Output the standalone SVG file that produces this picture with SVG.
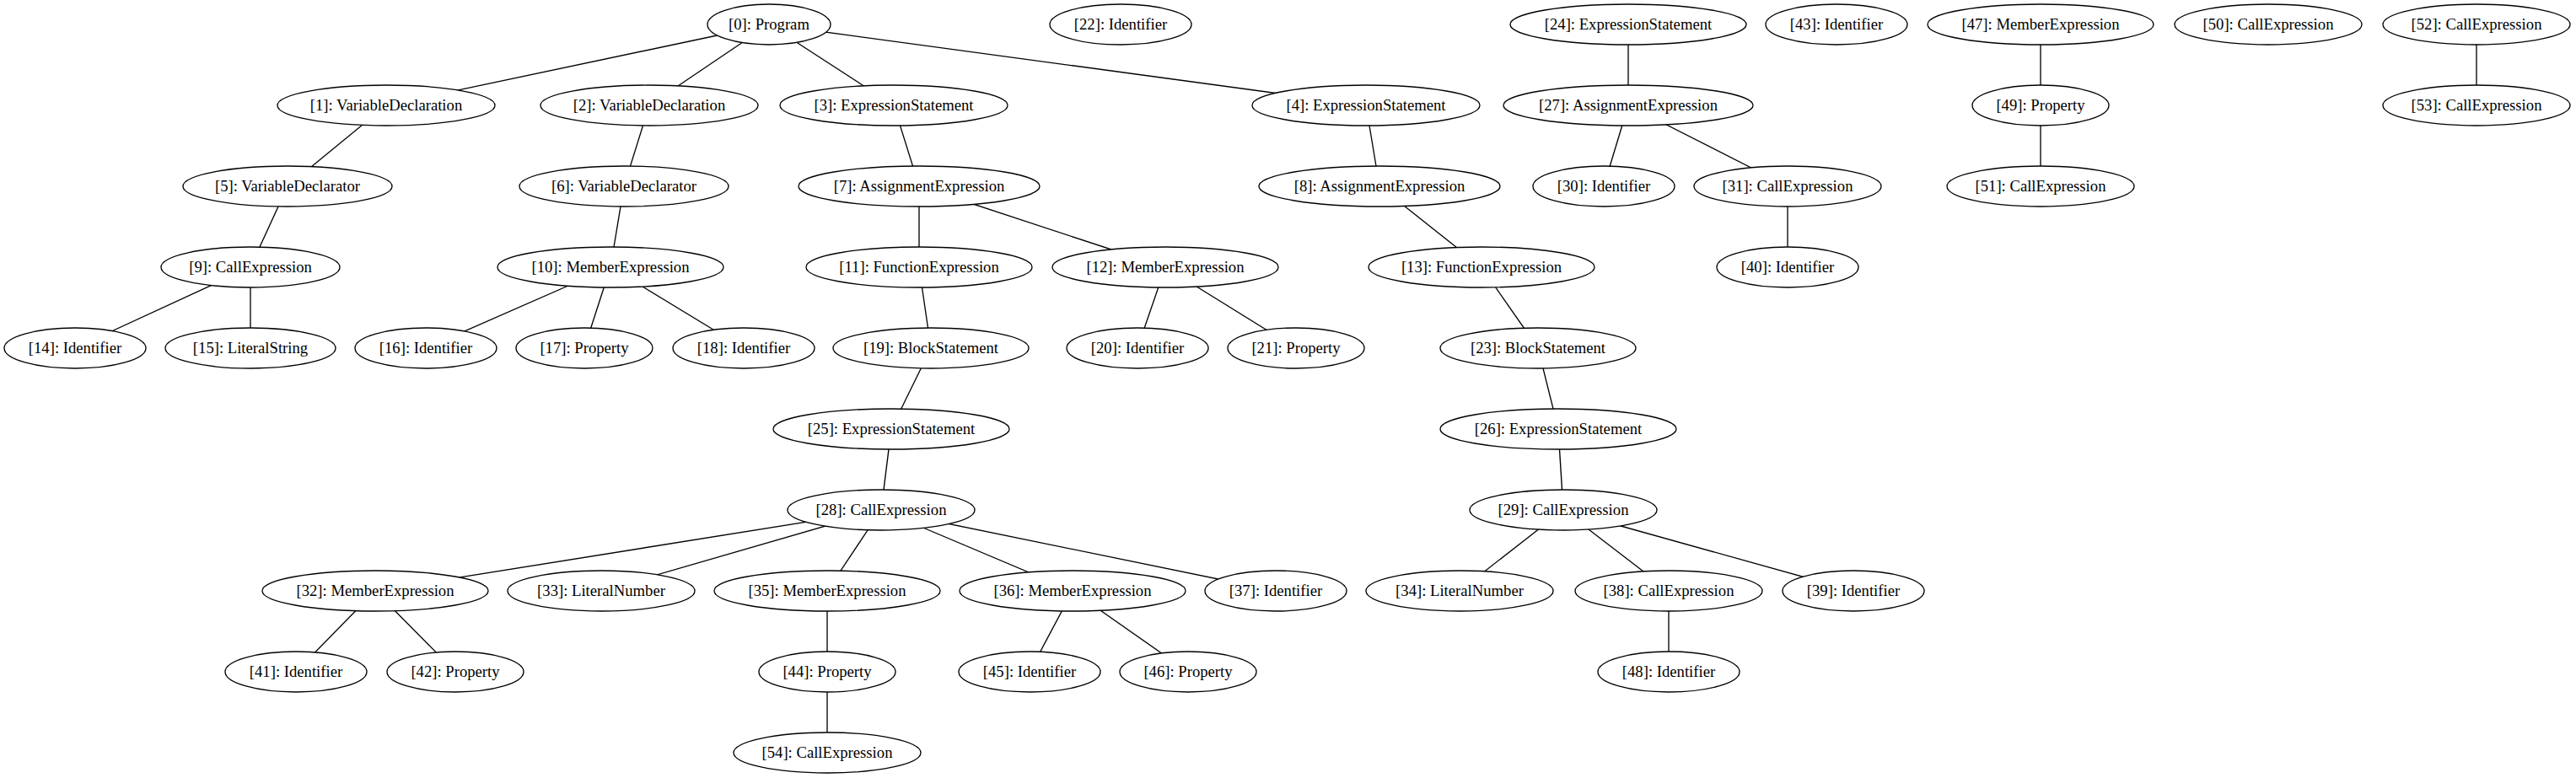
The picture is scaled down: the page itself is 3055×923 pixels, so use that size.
<svg xmlns="http://www.w3.org/2000/svg" width="3055" height="923" viewBox="0 0 3055 923">
<style>
.n ellipse{fill:#fff;stroke:#000;stroke-width:1.33}
.n text{font-family:"Liberation Serif","Times New Roman",serif;font-size:18.67px;text-anchor:middle;fill:#000}
#edges line{stroke:#000;stroke-width:1.33}
</style>
<rect width="3055" height="923" fill="#fff"/>
<g id="edges">
<line x1="912" y1="29" x2="458" y2="125"/>
<line x1="912" y1="29" x2="770" y2="125"/>
<line x1="912" y1="29" x2="1060" y2="125"/>
<line x1="912" y1="29" x2="1620" y2="125"/>
<line x1="458" y1="125" x2="341" y2="221"/>
<line x1="770" y1="125" x2="740" y2="221"/>
<line x1="1060" y1="125" x2="1090" y2="221"/>
<line x1="1620" y1="125" x2="1636" y2="221"/>
<line x1="341" y1="221" x2="297" y2="317"/>
<line x1="740" y1="221" x2="724" y2="317"/>
<line x1="1090" y1="221" x2="1090" y2="317"/>
<line x1="1090" y1="221" x2="1382" y2="317"/>
<line x1="1636" y1="221" x2="1757" y2="317"/>
<line x1="297" y1="317" x2="89" y2="413"/>
<line x1="297" y1="317" x2="297" y2="413"/>
<line x1="724" y1="317" x2="505" y2="413"/>
<line x1="724" y1="317" x2="693" y2="413"/>
<line x1="724" y1="317" x2="882" y2="413"/>
<line x1="1090" y1="317" x2="1104" y2="413"/>
<line x1="1382" y1="317" x2="1349" y2="413"/>
<line x1="1382" y1="317" x2="1537" y2="413"/>
<line x1="1757" y1="317" x2="1824" y2="413"/>
<line x1="1104" y1="413" x2="1057" y2="509"/>
<line x1="1824" y1="413" x2="1848" y2="509"/>
<line x1="1057" y1="509" x2="1045" y2="605"/>
<line x1="1848" y1="509" x2="1854" y2="605"/>
<line x1="1045" y1="605" x2="445" y2="701"/>
<line x1="1045" y1="605" x2="713" y2="701"/>
<line x1="1045" y1="605" x2="981" y2="701"/>
<line x1="1045" y1="605" x2="1272" y2="701"/>
<line x1="1045" y1="605" x2="1513" y2="701"/>
<line x1="1854" y1="605" x2="1731" y2="701"/>
<line x1="1854" y1="605" x2="1979" y2="701"/>
<line x1="1854" y1="605" x2="2198" y2="701"/>
<line x1="445" y1="701" x2="351" y2="797"/>
<line x1="445" y1="701" x2="540" y2="797"/>
<line x1="981" y1="701" x2="981" y2="797"/>
<line x1="1272" y1="701" x2="1221" y2="797"/>
<line x1="1272" y1="701" x2="1409" y2="797"/>
<line x1="1979" y1="701" x2="1979" y2="797"/>
<line x1="981" y1="797" x2="981" y2="893"/>
<line x1="1931" y1="29" x2="1931" y2="125"/>
<line x1="1931" y1="125" x2="1902" y2="221"/>
<line x1="1931" y1="125" x2="2120" y2="221"/>
<line x1="2120" y1="221" x2="2120" y2="317"/>
<line x1="2420" y1="29" x2="2420" y2="125"/>
<line x1="2420" y1="125" x2="2420" y2="221"/>
<line x1="2937" y1="29" x2="2937" y2="125"/>
</g>
<g id="n0" class="n"><ellipse cx="912" cy="29" rx="73" ry="24"/><text x="912" y="35">[0]: Program</text></g>
<g id="n1" class="n"><ellipse cx="458" cy="125" rx="129" ry="24"/><text x="458" y="131">[1]: VariableDeclaration</text></g>
<g id="n2" class="n"><ellipse cx="770" cy="125" rx="129" ry="24"/><text x="770" y="131">[2]: VariableDeclaration</text></g>
<g id="n3" class="n"><ellipse cx="1060" cy="125" rx="135" ry="24"/><text x="1060" y="131">[3]: ExpressionStatement</text></g>
<g id="n4" class="n"><ellipse cx="1620" cy="125" rx="135" ry="24"/><text x="1620" y="131">[4]: ExpressionStatement</text></g>
<g id="n5" class="n"><ellipse cx="341" cy="221" rx="124" ry="24"/><text x="341" y="227">[5]: VariableDeclarator</text></g>
<g id="n6" class="n"><ellipse cx="740" cy="221" rx="124" ry="24"/><text x="740" y="227">[6]: VariableDeclarator</text></g>
<g id="n7" class="n"><ellipse cx="1090" cy="221" rx="143" ry="24"/><text x="1090" y="227">[7]: AssignmentExpression</text></g>
<g id="n8" class="n"><ellipse cx="1636" cy="221" rx="143" ry="24"/><text x="1636" y="227">[8]: AssignmentExpression</text></g>
<g id="n9" class="n"><ellipse cx="297" cy="317" rx="106" ry="24"/><text x="297" y="323">[9]: CallExpression</text></g>
<g id="n10" class="n"><ellipse cx="724" cy="317" rx="134" ry="24"/><text x="724" y="323">[10]: MemberExpression</text></g>
<g id="n11" class="n"><ellipse cx="1090" cy="317" rx="134" ry="24"/><text x="1090" y="323">[11]: FunctionExpression</text></g>
<g id="n12" class="n"><ellipse cx="1382" cy="317" rx="134" ry="24"/><text x="1382" y="323">[12]: MemberExpression</text></g>
<g id="n13" class="n"><ellipse cx="1757" cy="317" rx="134" ry="24"/><text x="1757" y="323">[13]: FunctionExpression</text></g>
<g id="n14" class="n"><ellipse cx="89" cy="413" rx="84" ry="24"/><text x="89" y="419">[14]: Identifier</text></g>
<g id="n15" class="n"><ellipse cx="297" cy="413" rx="101" ry="24"/><text x="297" y="419">[15]: LiteralString</text></g>
<g id="n16" class="n"><ellipse cx="505" cy="413" rx="84" ry="24"/><text x="505" y="419">[16]: Identifier</text></g>
<g id="n17" class="n"><ellipse cx="693" cy="413" rx="81" ry="24"/><text x="693" y="419">[17]: Property</text></g>
<g id="n18" class="n"><ellipse cx="882" cy="413" rx="84" ry="24"/><text x="882" y="419">[18]: Identifier</text></g>
<g id="n19" class="n"><ellipse cx="1104" cy="413" rx="116" ry="24"/><text x="1104" y="419">[19]: BlockStatement</text></g>
<g id="n20" class="n"><ellipse cx="1349" cy="413" rx="84" ry="24"/><text x="1349" y="419">[20]: Identifier</text></g>
<g id="n21" class="n"><ellipse cx="1537" cy="413" rx="81" ry="24"/><text x="1537" y="419">[21]: Property</text></g>
<g id="n22" class="n"><ellipse cx="1329" cy="29" rx="84" ry="24"/><text x="1329" y="35">[22]: Identifier</text></g>
<g id="n23" class="n"><ellipse cx="1824" cy="413" rx="116" ry="24"/><text x="1824" y="419">[23]: BlockStatement</text></g>
<g id="n24" class="n"><ellipse cx="1931" cy="29" rx="140" ry="24"/><text x="1931" y="35">[24]: ExpressionStatement</text></g>
<g id="n25" class="n"><ellipse cx="1057" cy="509" rx="140" ry="24"/><text x="1057" y="515">[25]: ExpressionStatement</text></g>
<g id="n26" class="n"><ellipse cx="1848" cy="509" rx="140" ry="24"/><text x="1848" y="515">[26]: ExpressionStatement</text></g>
<g id="n27" class="n"><ellipse cx="1931" cy="125" rx="148" ry="24"/><text x="1931" y="131">[27]: AssignmentExpression</text></g>
<g id="n28" class="n"><ellipse cx="1045" cy="605" rx="111" ry="24"/><text x="1045" y="611">[28]: CallExpression</text></g>
<g id="n29" class="n"><ellipse cx="1854" cy="605" rx="111" ry="24"/><text x="1854" y="611">[29]: CallExpression</text></g>
<g id="n30" class="n"><ellipse cx="1902" cy="221" rx="84" ry="24"/><text x="1902" y="227">[30]: Identifier</text></g>
<g id="n31" class="n"><ellipse cx="2120" cy="221" rx="111" ry="24"/><text x="2120" y="227">[31]: CallExpression</text></g>
<g id="n32" class="n"><ellipse cx="445" cy="701" rx="134" ry="24"/><text x="445" y="707">[32]: MemberExpression</text></g>
<g id="n33" class="n"><ellipse cx="713" cy="701" rx="111" ry="24"/><text x="713" y="707">[33]: LiteralNumber</text></g>
<g id="n34" class="n"><ellipse cx="1731" cy="701" rx="111" ry="24"/><text x="1731" y="707">[34]: LiteralNumber</text></g>
<g id="n35" class="n"><ellipse cx="981" cy="701" rx="134" ry="24"/><text x="981" y="707">[35]: MemberExpression</text></g>
<g id="n36" class="n"><ellipse cx="1272" cy="701" rx="134" ry="24"/><text x="1272" y="707">[36]: MemberExpression</text></g>
<g id="n37" class="n"><ellipse cx="1513" cy="701" rx="84" ry="24"/><text x="1513" y="707">[37]: Identifier</text></g>
<g id="n38" class="n"><ellipse cx="1979" cy="701" rx="111" ry="24"/><text x="1979" y="707">[38]: CallExpression</text></g>
<g id="n39" class="n"><ellipse cx="2198" cy="701" rx="84" ry="24"/><text x="2198" y="707">[39]: Identifier</text></g>
<g id="n40" class="n"><ellipse cx="2120" cy="317" rx="84" ry="24"/><text x="2120" y="323">[40]: Identifier</text></g>
<g id="n41" class="n"><ellipse cx="351" cy="797" rx="84" ry="24"/><text x="351" y="803">[41]: Identifier</text></g>
<g id="n42" class="n"><ellipse cx="540" cy="797" rx="81" ry="24"/><text x="540" y="803">[42]: Property</text></g>
<g id="n43" class="n"><ellipse cx="2178" cy="29" rx="84" ry="24"/><text x="2178" y="35">[43]: Identifier</text></g>
<g id="n44" class="n"><ellipse cx="981" cy="797" rx="81" ry="24"/><text x="981" y="803">[44]: Property</text></g>
<g id="n45" class="n"><ellipse cx="1221" cy="797" rx="84" ry="24"/><text x="1221" y="803">[45]: Identifier</text></g>
<g id="n46" class="n"><ellipse cx="1409" cy="797" rx="81" ry="24"/><text x="1409" y="803">[46]: Property</text></g>
<g id="n47" class="n"><ellipse cx="2420" cy="29" rx="134" ry="24"/><text x="2420" y="35">[47]: MemberExpression</text></g>
<g id="n48" class="n"><ellipse cx="1979" cy="797" rx="84" ry="24"/><text x="1979" y="803">[48]: Identifier</text></g>
<g id="n49" class="n"><ellipse cx="2420" cy="125" rx="81" ry="24"/><text x="2420" y="131">[49]: Property</text></g>
<g id="n50" class="n"><ellipse cx="2690" cy="29" rx="111" ry="24"/><text x="2690" y="35">[50]: CallExpression</text></g>
<g id="n51" class="n"><ellipse cx="2420" cy="221" rx="111" ry="24"/><text x="2420" y="227">[51]: CallExpression</text></g>
<g id="n52" class="n"><ellipse cx="2937" cy="29" rx="111" ry="24"/><text x="2937" y="35">[52]: CallExpression</text></g>
<g id="n53" class="n"><ellipse cx="2937" cy="125" rx="111" ry="24"/><text x="2937" y="131">[53]: CallExpression</text></g>
<g id="n54" class="n"><ellipse cx="981" cy="893" rx="111" ry="24"/><text x="981" y="899">[54]: CallExpression</text></g>
</svg>
